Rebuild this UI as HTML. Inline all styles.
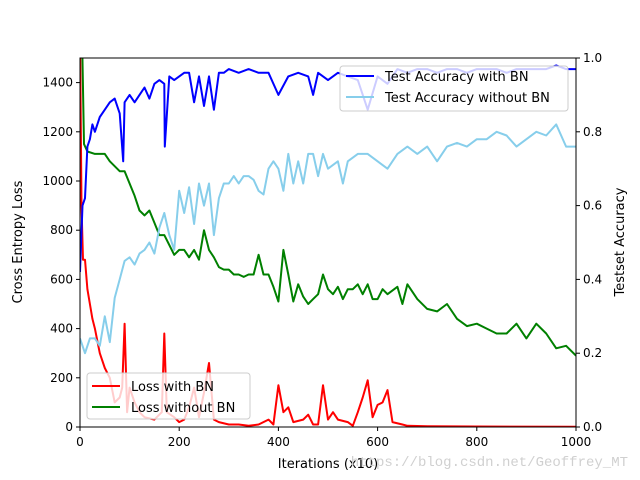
<!DOCTYPE html>
<html><head><meta charset="utf-8"><style>
body{margin:0;background:#fff;}
svg{display:block;font-family:"DejaVu Sans","Liberation Sans",sans-serif;}
</style></head><body>
<svg id="c" width="640" height="480" viewBox="0 0 640 480">
<defs><clipPath id="clip"><rect x="80" y="58" width="496" height="369"/></clipPath></defs>
<rect x="0" y="0" width="640" height="480" fill="#fff"/>
<g id="ax1" clip-path="url(#clip)"></g>
<g id="leg1">
<rect x="87" y="373" width="163" height="46" rx="3" fill="#fff" fill-opacity="0.8" stroke="#ccc" stroke-width="1"/>
<line x1="92" y1="386" x2="120" y2="386" stroke="red" stroke-width="2"/>
<text x="131" y="391" font-size="13">Loss with BN</text>
<line x1="92" y1="407" x2="120" y2="407" stroke="green" stroke-width="2"/>
<text x="131" y="412" font-size="13">Loss without BN</text>
</g>
<g id="ax2" clip-path="url(#clip)"></g>
<g id="leg2">
<rect x="340" y="66" width="228" height="45" rx="3" fill="#fff" fill-opacity="0.8" stroke="#ccc" stroke-width="1"/>
<line x1="346" y1="76" x2="374" y2="76" stroke="blue" stroke-width="2"/>
<text x="385" y="81" font-size="13">Test Accuracy with BN</text>
<line x1="346" y1="97" x2="374" y2="97" stroke="skyblue" stroke-width="2"/>
<text x="385" y="102" font-size="13">Test Accuracy without BN</text>
</g>
<rect x="80" y="58" width="496" height="369" fill="none" stroke="#000" stroke-width="1"/>
<g id="axes"></g>
<text x="22" y="242" font-size="13" text-anchor="middle" transform="rotate(-90 22 242)">Cross Entropy Loss</text>
<text x="624" y="242" font-size="13" text-anchor="middle" transform="rotate(-90 624 242)">Testset Accuracy</text>
<text x="328" y="468" font-size="13" text-anchor="middle">Iterations (x10)</text>
<text x="628" y="466" font-size="14" text-anchor="end" fill="#d0d0d0" font-family="Liberation Mono, monospace">https://blog.csdn.net/Geoffrey_MT</text>
</svg>
<script>
const xTicks=[0,200,400,600,800,1000];
const yTicks=[0,200,400,600,800,1000,1200,1400];
const y2Ticks=["0.0","0.2","0.4","0.6","0.8","1.0"];
const redIt=[0,3,6,10,15,20,25,30,40,50,60,70,80,85,90,95,100,110,120,130,150,165,170,175,190,200,210,220,230,240,250,260,270,280,300,320,340,360,380,390,400,410,420,430,450,460,470,480,490,500,510,520,540,550,560,570,580,590,600,610,620,630,650,660,700,800,1000];
const redVal=[1600,900,680,680,560,500,440,400,300,240,200,100,120,160,420,60,160,100,60,40,30,60,380,60,40,20,30,80,160,40,140,260,30,20,10,10,5,10,30,10,170,60,80,20,30,50,10,10,170,30,60,30,20,5,60,120,190,40,90,100,150,20,10,5,3,2,1];
const greenIt=[0,4,8,15,30,50,60,80,90,100,110,120,130,140,150,160,170,180,190,200,210,220,230,240,250,260,270,280,290,300,310,320,330,340,350,360,370,380,390,400,410,420,430,440,450,460,470,480,490,500,510,520,530,540,550,560,570,580,590,600,610,620,640,650,660,680,700,720,740,760,780,800,820,840,860,880,900,920,940,960,980,1000];
const greenVal=[1600,1600,1150,1120,1110,1110,1080,1040,1040,990,940,880,860,880,830,780,780,740,700,720,720,690,720,680,800,720,690,650,640,640,620,620,610,620,620,700,620,620,570,510,720,620,510,580,530,500,520,540,620,560,540,570,520,560,560,580,540,580,520,520,560,540,570,500,580,520,480,470,500,440,410,420,400,380,380,420,360,420,380,320,330,290];
const accIt=[0,5,10,15,20,25,30,40,50,60,70,80,87,90,100,110,120,130,140,150,160,170,171,180,190,200,210,220,230,240,250,260,270,280,290,300,320,340,360,380,400,420,440,460,470,480,500,520,540,560,580,600,620,640,660,680,700,720,740,760,780,800,820,840,860,880,900,920,940,960,980,1000];
const accBN=[0.42,0.60,0.62,0.76,0.78,0.82,0.80,0.84,0.86,0.88,0.89,0.85,0.72,0.88,0.90,0.88,0.90,0.92,0.89,0.93,0.94,0.93,0.76,0.95,0.94,0.95,0.96,0.96,0.88,0.95,0.87,0.95,0.86,0.96,0.96,0.97,0.96,0.97,0.96,0.96,0.90,0.95,0.96,0.95,0.90,0.96,0.94,0.96,0.95,0.94,0.86,0.95,0.93,0.97,0.96,0.97,0.97,0.96,0.97,0.97,0.96,0.97,0.97,0.97,0.96,0.97,0.97,0.97,0.97,0.98,0.97,0.97];
const noBNIt=[0,10,20,30,40,50,60,70,80,90,100,110,120,130,140,150,160,170,180,190,200,210,220,230,240,250,260,270,280,290,300,310,320,330,340,350,360,370,380,390,400,410,420,430,440,450,460,470,480,490,500,520,530,540,560,580,600,620,640,660,680,700,720,740,760,780,800,820,840,860,880,900,920,940,960,980,1000];
const accNoBN=[0.24,0.20,0.24,0.24,0.22,0.30,0.23,0.35,0.40,0.45,0.46,0.44,0.47,0.48,0.50,0.47,0.54,0.58,0.52,0.48,0.64,0.58,0.65,0.55,0.66,0.60,0.66,0.52,0.62,0.66,0.66,0.68,0.66,0.68,0.68,0.67,0.64,0.63,0.70,0.72,0.70,0.64,0.74,0.66,0.72,0.66,0.74,0.74,0.68,0.74,0.70,0.72,0.66,0.72,0.74,0.74,0.72,0.70,0.74,0.76,0.74,0.76,0.72,0.76,0.77,0.76,0.78,0.78,0.80,0.79,0.76,0.78,0.80,0.79,0.82,0.76,0.76];
const NS="http://www.w3.org/2000/svg";
const X=v=>80+v/1000*496;
const Y1=v=>427-v/1500*369;
const Y2=v=>427-v*369;
function line(g,xs,ys,fy,color,name){
  const p=document.createElementNS(NS,"polyline");
  p.setAttribute("points",xs.map((x,i)=>X(x).toFixed(1)+","+fy(ys[i]).toFixed(1)).join(" "));
  p.setAttribute("fill","none");p.setAttribute("stroke",color);p.setAttribute("stroke-width","2");
  p.setAttribute("stroke-linejoin","round");
  
  
  g.appendChild(p);
}
const a1=document.getElementById("ax1"),a2=document.getElementById("ax2"),ax=document.getElementById("axes");
line(a1,redIt,redVal,Y1,"red","loss-with-bn-line");
line(a1,greenIt,greenVal,Y1,"green","loss-without-bn-line");
line(a2,accIt,accBN,Y2,"blue","accuracy-with-bn-line");
line(a2,noBNIt,accNoBN,Y2,"skyblue","accuracy-without-bn-line");
function el(tag,attrs,txt){const e=document.createElementNS(NS,tag);for(const k in attrs)e.setAttribute(k,attrs[k]);if(txt!=null)e.textContent=txt;ax.appendChild(e);return e;}
xTicks.forEach(t=>{
  const l=el("line",{x1:X(t),y1:427,x2:X(t),y2:431,stroke:"#000"});
  
  
  const s=el("text",{x:X(t),y:446,"font-size":12,"text-anchor":"middle"},t);
  
  
});
yTicks.forEach(t=>{
  const l=el("line",{x1:76,y1:Y1(t),x2:80,y2:Y1(t),stroke:"#000"});
  
  
  const s=el("text",{x:73,y:Y1(t)+4,"font-size":12,"text-anchor":"end"},t);
  
  
});
y2Ticks.forEach(t=>{
  const v=parseFloat(t);
  const l=el("line",{x1:576,y1:Y2(v),x2:580,y2:Y2(v),stroke:"#000"});
  
  
  const s=el("text",{x:583,y:Y2(v)+4,"font-size":12,"text-anchor":"start"},t);
  
  
});
</script>
</body></html>
